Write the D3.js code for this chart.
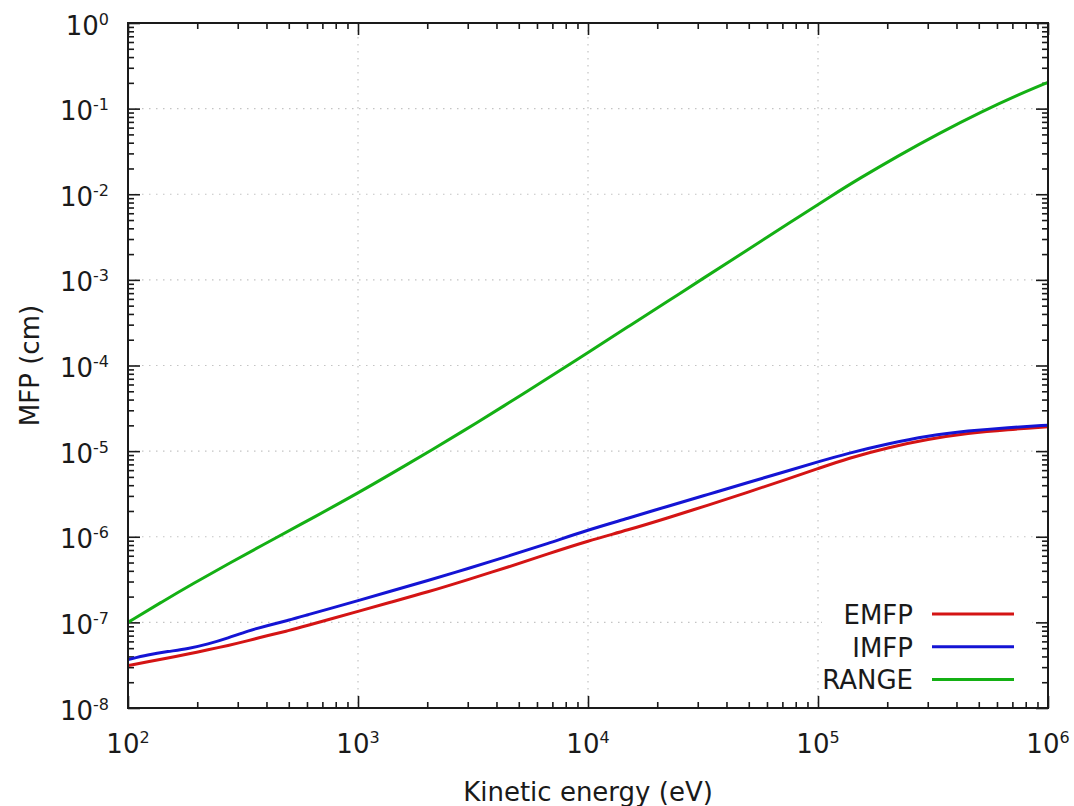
<!DOCTYPE html>
<html>
<head>
<meta charset="utf-8">
<script src="https://cdn.jsdelivr.net/npm/d3@7"></script>
<style>
  html, body { margin: 0; padding: 0; background: #fff; }
  svg { display: block; }
  text { font-family: "DejaVu Sans", sans-serif; fill: #1a1a1a; }
</style>
</head>
<body>
<svg id="chart" width="1074" height="806"></svg>
<script>
// Electron mean free paths and range versus kinetic energy (log-log)

const mfpEnergy = [100, 122, 149, 182, 223, 272, 333, 406, 497, 607, 741, 1000, 1350, 2010, 3010, 4490, 6700,
  10000, 14900, 22300, 33300, 49700, 74100, 100000, 135000, 201000, 301000, 449000, 670000, 1000000];

const emfpValues = [3.13e-8, 3.47e-8, 3.82e-8, 4.26e-8, 4.79e-8, 5.37e-8, 6.10e-8, 7.05e-8, 7.98e-8, 9.23e-8,
  1.074e-7, 1.346e-7, 1.687e-7, 2.26e-7, 3.16e-7, 4.42e-7, 6.32e-7,
  8.95e-7, 1.197e-6, 1.667e-6, 2.34e-6, 3.32e-6, 4.75e-6, 6.25e-6, 8.25e-6, 1.10e-5, 1.38e-5, 1.62e-5, 1.79e-5, 1.92e-5];

const imfpValues = [3.67e-8, 4.18e-8, 4.57e-8, 4.91e-8, 5.57e-8, 6.55e-8, 7.98e-8, 9.23e-8, 1.054e-7, 1.23e-7,
  1.43e-7, 1.795e-7, 2.26e-7, 3.08e-7, 4.26e-7, 5.93e-7, 8.35e-7,
  1.20e-6, 1.637e-6, 2.28e-6, 3.12e-6, 4.31e-6, 5.89e-6, 7.50e-6, 9.44e-6, 1.22e-5, 1.51e-5, 1.726e-5, 1.888e-5, 2.01e-5];

const rangeEnergy = [100, 140, 195, 272, 427, 649, 1000, 1490, 2050, 3330, 4970, 7760, 10000, 14900, 22300,
  31100, 49700, 74100, 118000, 149000, 223000, 333000, 525000, 741000, 1000000];

const rangeValues = [1.00e-7, 1.73e-7, 2.91e-7, 4.81e-7, 9.31e-7, 1.71e-6, 3.24e-6, 6.04e-6, 9.98e-6, 2.19e-5,
  4.29e-5, 9.16e-5, 1.416e-4, 2.83e-4, 5.66e-4, 1.009e-3, 2.26e-3, 4.53e-3, 1.01e-2, 1.49e-2, 2.81e-2, 5.09e-2,
  9.46e-2, 0.145, 0.203];

const xTickExponents = [2, 3, 4, 5, 6];
const yTickExponents = [-8, -7, -6, -5, -4, -3, -2, -1, 0];

const seriesNames = ["EMFP", "IMFP", "RANGE"];
const seriesColors = ["#d41414", "#1414d4", "#14b014"];

const xTitle = "Kinetic energy (eV)";
const yTitle = "MFP (cm)";

// ---- layout ----
const plot = { left: 128, right: 1048, top: 23, bottom: 708 };
const svg = d3.select("#chart");

const x = d3.scaleLog().domain([1e2, 1e6]).range([plot.left, plot.right]);
const y = d3.scaleLog().domain([1e-8, 1]).range([plot.bottom, plot.top]);

const xMajor = xTickExponents.map(e => Math.pow(10, e));
const yMajor = yTickExponents.map(e => Math.pow(10, e));
function minorsOf(majors) {
  const out = [];
  for (let i = 0; i < majors.length - 1; i++)
    for (let k = 2; k <= 9; k++) out.push(majors[i] * k);
  return out;
}
const xMinor = minorsOf(xMajor);
const yMinor = minorsOf(yMajor);

// ---- grid (dotted, major only) ----
const grid = svg.append("g").attr("stroke", "#c4c4c4").attr("stroke-width", 1.2)
  .attr("stroke-dasharray", "1.5,5.5");
grid.selectAll("line.gx").data(xMajor.slice(1, -1)).join("line")
  .attr("x1", d => x(d)).attr("x2", d => x(d)).attr("y1", plot.top).attr("y2", plot.bottom);
grid.selectAll("line.gy").data(yMajor.slice(1, -1)).join("line")
  .attr("x1", plot.left).attr("x2", plot.right).attr("y1", d => y(d)).attr("y2", d => y(d));

// ---- ticks on all four sides, pointing inward ----
function tickAxis(axisFn, scale, values, size, transform) {
  const g = svg.append("g").attr("transform", transform)
    .call(axisFn(scale).tickValues(values).tickSize(-size).tickFormat(""));
  g.select(".domain").remove();
  g.selectAll(".tick line").attr("stroke", "#1a1a1a").attr("stroke-width", 1.6);
  return g;
}
const bottomT = `translate(0,${plot.bottom})`, topT = `translate(0,${plot.top})`;
const leftT = `translate(${plot.left},0)`, rightT = `translate(${plot.right},0)`;
tickAxis(d3.axisBottom, x, xMajor, 12, bottomT);
tickAxis(d3.axisBottom, x, xMinor, 6, bottomT);
tickAxis(d3.axisTop, x, xMajor, 12, topT);
tickAxis(d3.axisTop, x, xMinor, 6, topT);
tickAxis(d3.axisLeft, y, yMajor, 12, leftT);
tickAxis(d3.axisLeft, y, yMinor, 6, leftT);
tickAxis(d3.axisRight, y, yMajor, 12, rightT);
tickAxis(d3.axisRight, y, yMinor, 6, rightT);

// ---- legend background (opaque key) ----
const legend = { textRight: 913, lineX1: 932, lineX2: 1014, y0: 614, dy: 32.7 };
svg.append("rect").attr("x", 822).attr("y", 596).attr("width", 210).attr("height", 100).attr("fill", "#fff");

// ---- curves ----
svg.append("clipPath").attr("id", "plotclip").append("rect")
  .attr("x", plot.left).attr("y", plot.top)
  .attr("width", plot.right - plot.left).attr("height", plot.bottom - plot.top);

const line = d3.line().x(d => x(d[0])).y(d => y(d[1])).curve(d3.curveBasis);
const seriesData = [
  d3.zip(mfpEnergy, emfpValues),
  d3.zip(mfpEnergy, imfpValues),
  d3.zip(rangeEnergy, rangeValues)
];
const curves = svg.append("g").attr("clip-path", "url(#plotclip)");
seriesData.forEach((pts, i) => {
  curves.append("path").attr("d", line(pts)).attr("fill", "none")
    .attr("stroke", seriesColors[i]).attr("stroke-width", 3).attr("stroke-linejoin", "round");
});

// ---- frame ----
svg.append("rect").attr("x", plot.left).attr("y", plot.top)
  .attr("width", plot.right - plot.left).attr("height", plot.bottom - plot.top)
  .attr("fill", "none").attr("stroke", "#1a1a1a").attr("stroke-width", 2);

// ---- tick labels with superscript exponents ----
const baseSize = 26, supSize = 16;
function powerLabel(sel, exp) {
  sel.append("tspan").text("10");
  sel.append("tspan").attr("font-size", supSize).attr("dy", -10).text(String(exp));
}
xTickExponents.forEach(e => {
  const t = svg.append("text").attr("x", x(Math.pow(10, e))).attr("y", 753)
    .attr("text-anchor", "middle").attr("font-size", baseSize);
  powerLabel(t, e);
});
yTickExponents.forEach(e => {
  const t = svg.append("text").attr("x", 109).attr("y", y(Math.pow(10, e)) + 11.5)
    .attr("text-anchor", "end").attr("font-size", baseSize);
  powerLabel(t, e);
});

// ---- axis titles ----
svg.append("text").attr("x", (plot.left + plot.right) / 2).attr("y", 801)
  .attr("text-anchor", "middle").attr("font-size", baseSize).text(xTitle);
svg.append("text").attr("transform", `translate(39,${(plot.top + plot.bottom) / 2}) rotate(-90)`)
  .attr("text-anchor", "middle").attr("font-size", baseSize).text(yTitle);

// ---- legend entries ----
seriesNames.forEach((name, i) => {
  const yy = legend.y0 + i * legend.dy;
  svg.append("text").attr("x", legend.textRight).attr("y", yy + 10)
    .attr("text-anchor", "end").attr("font-size", baseSize).text(name);
  svg.append("line").attr("x1", legend.lineX1).attr("x2", legend.lineX2)
    .attr("y1", yy).attr("y2", yy).attr("stroke", seriesColors[i]).attr("stroke-width", 3);
});
</script>
</body>
</html>
